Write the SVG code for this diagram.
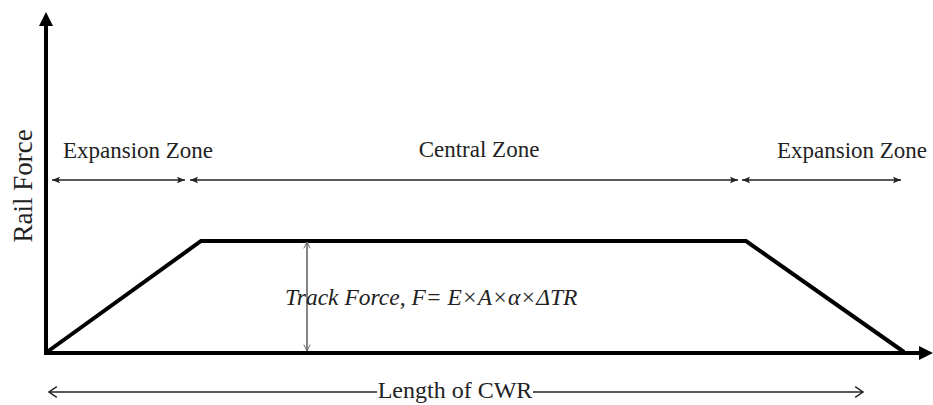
<svg xmlns="http://www.w3.org/2000/svg" width="933" height="405" viewBox="0 0 933 405">
<style>
.t{font-family:"Liberation Serif","Times New Roman",serif;font-size:23px;fill:#222}
.it{font-style:italic}
.axis{stroke:#000;stroke-width:4;fill:none}
.curve{stroke:#000;stroke-width:4;fill:none;stroke-linejoin:miter}
.zone{stroke:#222;stroke-width:1.6;fill:none}
.dim{stroke:#666;stroke-width:1.6;fill:none}
.len{stroke:#222;stroke-width:1.5;fill:none}
</style>
<defs>
<marker id="zh" viewBox="0 0 10 10" refX="10" refY="5" markerWidth="5" markerHeight="5" markerUnits="strokeWidth" orient="auto-start-reverse">
<path d="M0,1 L10,5 L0,9 L2,5 Z" fill="#222"/>
</marker>
<marker id="dh" viewBox="0 0 10 10" refX="9" refY="5" markerWidth="5" markerHeight="5" markerUnits="strokeWidth" orient="auto-start-reverse">
<path d="M1,1 L9,5 L1,9" fill="none" stroke="#666" stroke-width="1.2"/>
</marker>
<marker id="lh" viewBox="0 0 10 10" refX="9.5" refY="5" markerWidth="8" markerHeight="8" markerUnits="strokeWidth" orient="auto-start-reverse">
<path d="M3,0.5 L9.5,5 L3,9.5" fill="none" stroke="#222" stroke-width="1.2"/>
</marker>
</defs>
<g id="axes">
<line class="axis" x1="46" y1="353" x2="46" y2="26"/>
<polygon points="46,12 39,26 53,26" fill="#000"/>
<line class="axis" x1="44" y1="353" x2="920" y2="353"/>
<polygon points="933,353 919,346 919,360" fill="#000"/>
</g>
<g id="force-curve">
<polyline class="curve" points="47,352 201,241 746,241 904,352"/>
</g>
<g id="connectors">
<line class="zone" x1="52" y1="180" x2="185" y2="180" marker-start="url(#zh)" marker-end="url(#zh)"/>
<line class="zone" x1="190" y1="180" x2="738" y2="180" marker-start="url(#zh)" marker-end="url(#zh)"/>
<line class="zone" x1="742" y1="180" x2="901" y2="180" marker-start="url(#zh)" marker-end="url(#zh)"/>
<line class="dim" x1="307" y1="242" x2="307" y2="351" marker-start="url(#dh)" marker-end="url(#dh)"/>
<line class="len" x1="49" y1="392" x2="377" y2="392" marker-start="url(#lh)"/>
<line class="len" x1="533" y1="392" x2="863" y2="392" marker-end="url(#lh)"/>
</g>
<g id="labels">
<text class="t" x="32" y="186" text-anchor="middle" transform="rotate(-90 32 186)" style="font-size:27px">Rail Force</text>
<text class="t" x="138" y="158" text-anchor="middle">Expansion Zone</text>
<text class="t" x="479" y="157" text-anchor="middle">Central Zone</text>
<text class="t" x="852" y="158" text-anchor="middle">Expansion Zone</text>
<text class="t it" x="285" y="305" style="font-size:23.5px">Track Force, <tspan>F</tspan>= <tspan>E</tspan>×<tspan>A</tspan>×α×Δ<tspan>TR</tspan></text>
<text class="t" x="455" y="398" text-anchor="middle" style="font-size:24px">Length of CWR</text>
</g>
</svg>
